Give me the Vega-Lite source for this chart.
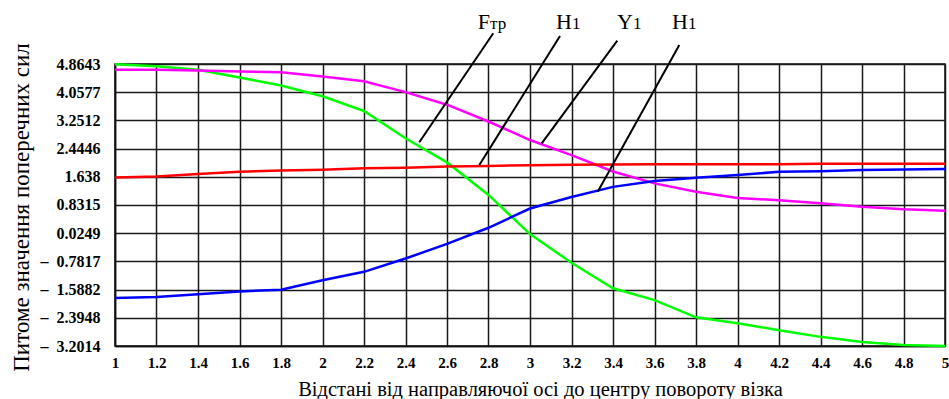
{
  "$schema": "https://vega.github.io/schema/vega-lite/v6.json",
  "width": 830,
  "height": 282,
  "autosize": {"type": "none"},
  "padding": {"left": 115, "top": 64, "right": 4, "bottom": 53},
  "background": "white",
  "config": {"view": {"stroke": "#111", "strokeWidth": 1.5}},
  "datasets": {
    "curves": [
      {"x": 1.0, "y": 4.86, "s": "F"}, {"x": 1.2, "y": 4.80, "s": "F"}, {"x": 1.4, "y": 4.70, "s": "F"}, {"x": 1.6, "y": 4.48, "s": "F"}, {"x": 1.8, "y": 4.25, "s": "F"}, {"x": 2.0, "y": 3.94, "s": "F"}, {"x": 2.2, "y": 3.52, "s": "F"}, {"x": 2.4, "y": 2.74, "s": "F"}, {"x": 2.6, "y": 2.05, "s": "F"}, {"x": 2.8, "y": 1.12, "s": "F"}, {"x": 3.0, "y": 0.0, "s": "F"}, {"x": 3.2, "y": -0.82, "s": "F"}, {"x": 3.4, "y": -1.55, "s": "F"}, {"x": 3.6, "y": -1.89, "s": "F"}, {"x": 3.8, "y": -2.38, "s": "F"}, {"x": 4.0, "y": -2.55, "s": "F"}, {"x": 4.2, "y": -2.75, "s": "F"}, {"x": 4.4, "y": -2.94, "s": "F"}, {"x": 4.6, "y": -3.09, "s": "F"}, {"x": 4.8, "y": -3.17, "s": "F"}, {"x": 5.0, "y": -3.20, "s": "F"},
      {"x": 1.0, "y": 4.70, "s": "Y"}, {"x": 1.2, "y": 4.70, "s": "Y"}, {"x": 1.4, "y": 4.68, "s": "Y"}, {"x": 1.6, "y": 4.65, "s": "Y"}, {"x": 1.8, "y": 4.63, "s": "Y"}, {"x": 2.0, "y": 4.51, "s": "Y"}, {"x": 2.2, "y": 4.37, "s": "Y"}, {"x": 2.4, "y": 4.06, "s": "Y"}, {"x": 2.6, "y": 3.70, "s": "Y"}, {"x": 2.8, "y": 3.22, "s": "Y"}, {"x": 3.0, "y": 2.69, "s": "Y"}, {"x": 3.2, "y": 2.26, "s": "Y"}, {"x": 3.4, "y": 1.79, "s": "Y"}, {"x": 3.6, "y": 1.45, "s": "Y"}, {"x": 3.8, "y": 1.21, "s": "Y"}, {"x": 4.0, "y": 1.03, "s": "Y"}, {"x": 4.2, "y": 0.97, "s": "Y"}, {"x": 4.4, "y": 0.88, "s": "Y"}, {"x": 4.6, "y": 0.78, "s": "Y"}, {"x": 4.8, "y": 0.71, "s": "Y"}, {"x": 5.0, "y": 0.67, "s": "Y"},
      {"x": 1.0, "y": 1.62, "s": "R"}, {"x": 1.2, "y": 1.65, "s": "R"}, {"x": 1.4, "y": 1.72, "s": "R"}, {"x": 1.6, "y": 1.78, "s": "R"}, {"x": 1.8, "y": 1.82, "s": "R"}, {"x": 2.0, "y": 1.84, "s": "R"}, {"x": 2.2, "y": 1.88, "s": "R"}, {"x": 2.4, "y": 1.90, "s": "R"}, {"x": 2.6, "y": 1.93, "s": "R"}, {"x": 2.8, "y": 1.95, "s": "R"}, {"x": 3.0, "y": 1.97, "s": "R"}, {"x": 3.2, "y": 1.98, "s": "R"}, {"x": 3.4, "y": 1.99, "s": "R"}, {"x": 3.6, "y": 2.0, "s": "R"}, {"x": 3.8, "y": 2.0, "s": "R"}, {"x": 4.0, "y": 2.0, "s": "R"}, {"x": 4.2, "y": 2.0, "s": "R"}, {"x": 4.4, "y": 2.01, "s": "R"}, {"x": 4.6, "y": 2.01, "s": "R"}, {"x": 4.8, "y": 2.01, "s": "R"}, {"x": 5.0, "y": 2.01, "s": "R"},
      {"x": 1.0, "y": -1.83, "s": "B"}, {"x": 1.2, "y": -1.80, "s": "B"}, {"x": 1.4, "y": -1.72, "s": "B"}, {"x": 1.6, "y": -1.64, "s": "B"}, {"x": 1.8, "y": -1.59, "s": "B"}, {"x": 2.0, "y": -1.32, "s": "B"}, {"x": 2.2, "y": -1.08, "s": "B"}, {"x": 2.4, "y": -0.70, "s": "B"}, {"x": 2.6, "y": -0.28, "s": "B"}, {"x": 2.8, "y": 0.18, "s": "B"}, {"x": 3.0, "y": 0.73, "s": "B"}, {"x": 3.2, "y": 1.06, "s": "B"}, {"x": 3.4, "y": 1.35, "s": "B"}, {"x": 3.6, "y": 1.52, "s": "B"}, {"x": 3.8, "y": 1.61, "s": "B"}, {"x": 4.0, "y": 1.69, "s": "B"}, {"x": 4.2, "y": 1.78, "s": "B"}, {"x": 4.4, "y": 1.80, "s": "B"}, {"x": 4.6, "y": 1.83, "s": "B"}, {"x": 4.8, "y": 1.85, "s": "B"}, {"x": 5.0, "y": 1.86, "s": "B"}
    ],
    "leaders": [
      {"x": 2.4665, "y": 2.625, "x2": 2.823, "y2": 5.742},
      {"x": 2.756, "y": 1.975, "x2": 3.1446, "y2": 5.665},
      {"x": 3.0564, "y": 2.596, "x2": 3.4207, "y2": 5.531},
      {"x": 3.3263, "y": 1.212, "x2": 3.7195, "y2": 5.408}
    ],
    "labels": [
      {"x": 2.8072, "y": 5.857, "main": "F", "sub": "тр"},
      {"x": 3.2024, "y": 5.857, "main": "H", "sub": "1"},
      {"x": 3.4964, "y": 5.857, "main": "Y", "sub": "1"},
      {"x": 3.7614, "y": 5.857, "main": "H", "sub": "1"}
    ]
  },
  "encoding": {
    "x": {
      "field": "x", "type": "quantitative",
      "scale": {"domain": [1, 5], "nice": false, "zero": false},
      "axis": {
        "values": [1, 1.2, 1.4, 1.6, 1.8, 2, 2.2, 2.4, 2.6, 2.8, 3, 3.2, 3.4, 3.6, 3.8, 4, 4.2, 4.4, 4.6, 4.8, 5],
        "format": "~g",
        "grid": true, "gridColor": "#1a1a1a", "gridWidth": 1.5,
        "domain": true, "domainColor": "#111", "domainWidth": 1.5,
        "ticks": false, "labelPadding": 9,
        "labelFont": "Liberation Serif", "labelFontWeight": "bold", "labelFontSize": 15, "labelColor": "#000",
        "labelFlush": false, "labelOverlap": false,
        "title": "Відстані від направляючої осі до центру повороту візка",
        "titleFont": "Liberation Serif", "titleFontWeight": "normal", "titleFontSize": 20.5, "titleColor": "#000",
        "titleX": 425, "titleY": 49, "titleAlign": "center", "titleBaseline": "alphabetic"
      }
    },
    "y": {
      "field": "y", "type": "quantitative",
      "scale": {"domain": [-3.2014, 4.8643], "nice": false, "zero": false},
      "axis": {
        "values": [-3.2014, -2.3948, -1.5882, -0.7817, 0.0249, 0.8315, 1.638, 2.4446, 3.2512, 4.0577, 4.8643],
        "labelExpr": "datum.value < 0 ? '–\u00a0\u00a0' + format(-datum.value, '.4~f') : format(datum.value, '.4~f')",
        "grid": true, "gridColor": "#1a1a1a", "gridWidth": 1.5,
        "domain": true, "domainColor": "#111", "domainWidth": 1.5,
        "ticks": false, "labelPadding": 15,
        "labelFont": "Liberation Serif", "labelFontWeight": "bold", "labelFontSize": 16, "labelColor": "#000",
        "labelFlush": false, "labelOverlap": false, "labelSeparation": 0,
        "title": "Питоме значення поперечних сил",
        "titleFont": "Liberation Serif", "titleFontWeight": "normal", "titleFontSize": 23, "titleColor": "#000",
        "titleAngle": -90, "titleX": -87, "titleY": 143, "titleAlign": "center", "titleBaseline": "alphabetic"
      }
    }
  },
  "layer": [
    {
      "data": {"name": "curves"},
      "mark": {"type": "line", "strokeWidth": 2.5},
      "encoding": {
        "color": {
          "field": "s", "type": "nominal",
          "scale": {"domain": ["F", "Y", "R", "B"], "range": ["#00ff00", "#ff00ff", "#ff0000", "#0000ff"]},
          "legend": null
        }
      }
    },
    {
      "data": {"name": "leaders"},
      "mark": {"type": "rule", "color": "#000", "strokeWidth": 2},
      "encoding": {
        "x2": {"field": "x2"},
        "y2": {"field": "y2"}
      }
    },
    {
      "data": {"name": "labels"},
      "mark": {"type": "text", "align": "right", "baseline": "alphabetic", "font": "Liberation Serif", "fontSize": 22, "color": "#000"},
      "encoding": {
        "text": {"field": "main"}
      }
    },
    {
      "data": {"name": "labels"},
      "mark": {"type": "text", "align": "left", "baseline": "alphabetic", "font": "Liberation Serif", "fontSize": 17, "color": "#000"},
      "encoding": {
        "text": {"field": "sub"}
      }
    }
  ]
}
